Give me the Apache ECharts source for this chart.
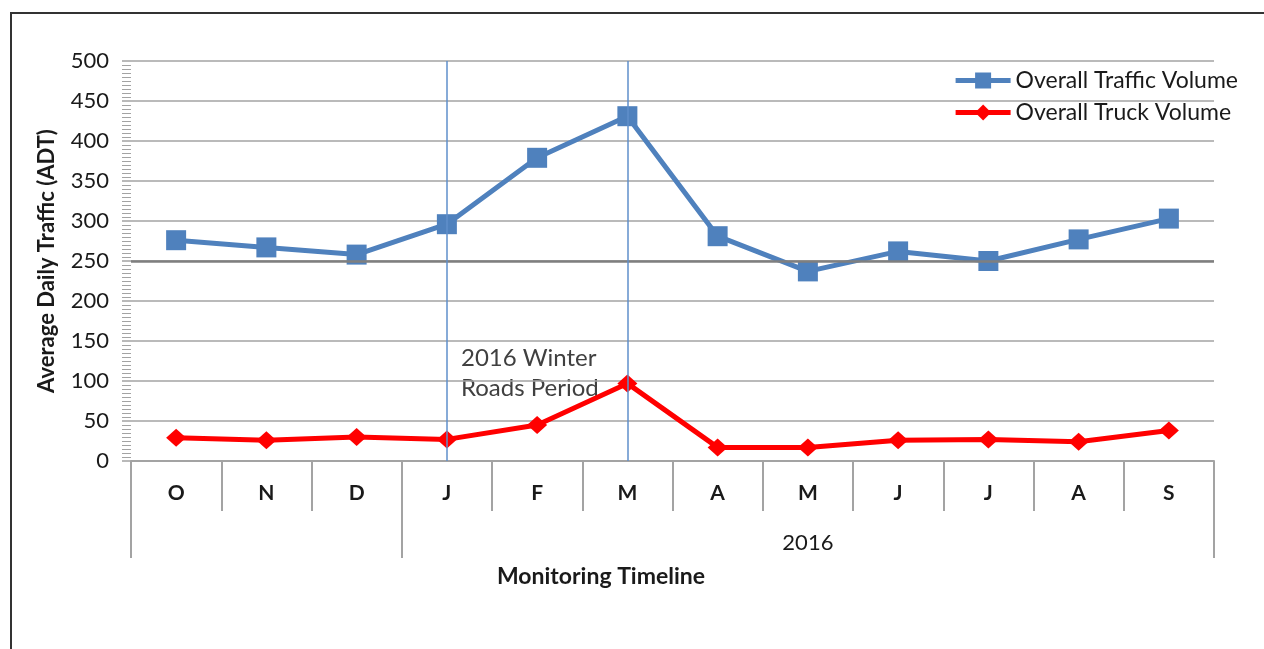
<!DOCTYPE html>
<html>
<head>
<meta charset="utf-8">
<script src="https://cdn.jsdelivr.net/npm/echarts@6/dist/echarts.min.js"></script>
<style>
  html, body { margin: 0; padding: 0; background: #fff; }
  /* frame of the original figure (left and top edges only) */
  #frame { position: absolute; left: 10px; top: 12px; width: 1300px; height: 700px;
           border-left: 2px solid #333; border-top: 2px solid #333; }
  #chart { position: absolute; left: 0; top: 0; width: 1264px; height: 649px; }
</style>
</head>
<body>
<div id="frame"></div>
<div id="chart"></div>
<script>
// months, Oct 2015 .. Sep 2016
var months = ['O', 'N', 'D', 'J', 'F', 'M', 'A', 'M', 'J', 'J', 'A', 'S'];
var trafficVolume = [276, 267, 258, 296, 379, 431, 281, 237, 262, 250, 277, 303];
var truckVolume = [29, 26, 30, 27, 45, 97, 17, 17, 26, 27, 24, 38];

// second level of the category axis
var yearNames = ['', '2016'];
var yearSpans = [3, 9];

// winter roads period, category indexes (J .. M)
var winterPeriod = [3, 5];
var referenceLevel = 250;

// y axis
var yMin = 0, yMax = 500, yStep = 50;

var FONT = 'Lato, "Open Sans", sans-serif';
var GRID_COLOR = '#a3a3a3';

// group boundaries and group label positions
var groupStarts = [];
var groupLabelAt = {};
var start = 0;
yearSpans.forEach(function (span, i) {
  groupStarts.push(start);
  groupLabelAt[start + Math.floor(span / 2)] = yearNames[i];
  start += span;
});

var chart = echarts.init(document.getElementById('chart'));

var option = {
  animation: false,
  grid: {
    left: 131,
    right: 50,
    top: 61,
    bottom: 188,
    containLabel: false,
    outerBoundsMode: 'none'
  },
  legend: {
    orient: 'vertical',
    right: 21,
    top: 64,
    itemWidth: 55,
    itemHeight: 20,
    itemGap: 9,
    selectedMode: false,
    lineStyle: { width: 5 },
    textStyle: { fontFamily: FONT, fontSize: 23, color: '#1a1a1a' },
    data: ['Overall Traffic Volume', 'Overall Truck Volume']
  },
  xAxis: [
    {
      type: 'category',
      data: months,
      boundaryGap: true,
      position: 'bottom',
      axisLine: { show: true, lineStyle: { color: GRID_COLOR, width: 2 } },
      axisTick: { show: true, length: 50, lineStyle: { color: GRID_COLOR, width: 2 } },
      axisLabel: {
        interval: 0,
        margin: 22,
        fontFamily: FONT,
        fontSize: 21,
        fontWeight: 'bold',
        color: '#1a1a1a'
      },
      splitLine: { show: false }
    },
    {
      // year row under the months
      type: 'category',
      data: months,
      boundaryGap: true,
      position: 'bottom',
      offset: 0,
      axisLine: { show: false },
      axisTick: {
        show: true,
        length: 97,
        interval: function (index) { return groupStarts.indexOf(index) >= 0; },
        lineStyle: { color: GRID_COLOR, width: 2 }
      },
      axisLabel: {
        interval: 0,
        margin: 71,
        fontFamily: FONT,
        fontSize: 22,
        color: '#1a1a1a',
        formatter: function (value, index) { return groupLabelAt[index] || ''; }
      },
      splitLine: { show: false }
    }
  ],
  yAxis: {
    type: 'value',
    min: yMin,
    max: yMax,
    interval: yStep,
    name: 'Average Daily Traffic (ADT)',
    nameLocation: 'middle',
    nameGap: 73,
    nameTextStyle: { fontFamily: FONT, fontSize: 22, fontWeight: 'bold', color: '#1a1a1a' },
    axisLine: { show: false },
    axisTick: { show: true, length: 9, lineStyle: { color: GRID_COLOR, width: 1.5 } },
    minorTick: { show: true, splitNumber: 10, length: 9, lineStyle: { color: GRID_COLOR, width: 1 } },
    axisLabel: { margin: 22, fontFamily: FONT, fontSize: 22, color: '#1a1a1a' },
    splitLine: { show: true, lineStyle: { color: GRID_COLOR, width: 1.5 } }
  },
  series: [
    {
      name: 'Overall Traffic Volume',
      type: 'line',
      data: trafficVolume,
      symbol: 'rect',
      symbolSize: 20,
      lineStyle: { color: '#4f81bd', width: 5 },
      itemStyle: { color: '#4f81bd' },
      z: 3,
      markLine: {
        silent: true,
        symbol: 'none',
        label: { show: false },
        data: [
          { yAxis: referenceLevel, lineStyle: { color: '#7f7f7f', width: 2.5, type: 'solid' } },
          { xAxis: winterPeriod[0], lineStyle: { color: '#5f8fcb', width: 1.5, type: 'solid' } },
          { xAxis: winterPeriod[1], lineStyle: { color: '#5f8fcb', width: 1.5, type: 'solid' } }
        ]
      }
    },
    {
      name: 'Overall Truck Volume',
      type: 'line',
      data: truckVolume,
      symbol: 'diamond',
      symbolSize: [20, 18],
      lineStyle: { color: '#ff0000', width: 5 },
      itemStyle: { color: '#ff0000' },
      z: 3
    }
  ],
  graphic: [
    {
      type: 'text',
      left: 461,
      top: 343,
      style: {
        text: '2016 Winter\nRoads Period',
        font: '24px ' + FONT,
        fill: '#404040',
        lineHeight: 30
      }
    },
    {
      type: 'text',
      x: 601,
      y: 577,
      style: {
        text: 'Monitoring Timeline',
        font: 'bold 23px ' + FONT,
        fill: '#1a1a1a',
        align: 'center',
        verticalAlign: 'middle'
      }
    }
  ]
};

chart.setOption(option);
</script>
</body>
</html>
